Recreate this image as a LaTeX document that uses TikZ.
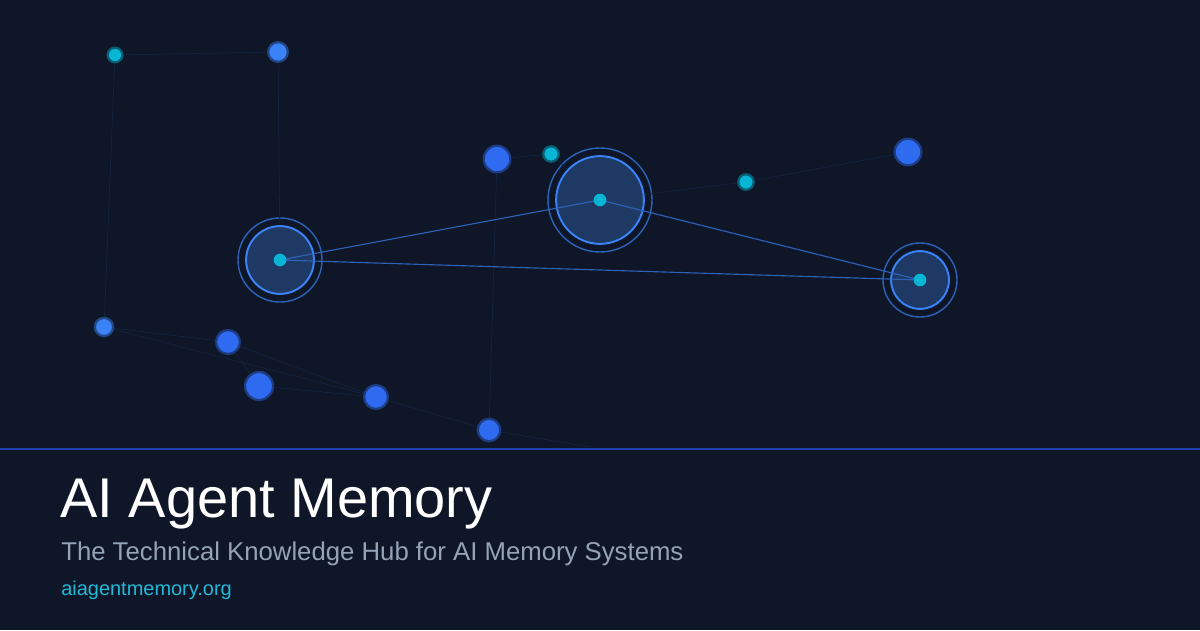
\documentclass[tikz,border=0pt]{standalone}
\usepackage{fontspec}
\setmainfont{Liberation Sans}
\definecolor{bgnavy}{HTML}{0E1627}
\definecolor{nodeblue}{HTML}{2F6BF0}
\definecolor{lightblue}{HTML}{3B82F6}
\definecolor{nodecyan}{HTML}{06B6D4}
\definecolor{hubfill}{HTML}{1E3A64}
\definecolor{rulebl}{HTML}{1E40AF}
\definecolor{subgray}{HTML}{94A3B8}
\definecolor{urlcyan}{HTML}{22B8D8}
\tikzset{
  dot/.style={circle,fill=#1,draw=#1!45!bgnavy,line width=1.6pt,inner sep=0pt},
  faint/.style={draw=lightblue!12!bgnavy,line width=0.5pt},
  link/.style={draw=lightblue!70!bgnavy,line width=0.8pt},
  hub/.style={circle,fill=hubfill,draw=lightblue,line width=1.4pt,inner sep=0pt}
}
\begin{document}
\begin{tikzpicture}[x=0.025cm,y=-0.025cm]
  \fill[bgnavy] (0,0) rectangle (1200,630);
  \useasboundingbox (0,0) rectangle (1200,630);
%small nodes
  \coordinate (e1) at (590,447);
  \node[dot=nodecyan,minimum size=10.5] (a1) at (115,55) {};
  \node[dot=lightblue,minimum size=14] (a2) at (278,52) {};
  \node[dot=nodeblue,minimum size=19] (b1) at (497,159) {};
  \node[dot=nodecyan,minimum size=11] (b2) at (551,154) {};
  \node[dot=nodecyan,minimum size=11] (c1) at (746,182) {};
  \node[dot=nodeblue,minimum size=19] (c2) at (908,152) {};
  \node[dot=lightblue,minimum size=13] (d1) at (104,327) {};
  \node[dot=nodeblue,minimum size=17] (d2) at (228,342) {};
  \node[dot=nodeblue,minimum size=20] (d3) at (259,386) {};
  \node[dot=nodeblue,minimum size=17] (d4) at (376,397) {};
  \node[dot=nodeblue,minimum size=16] (d5) at (489,430) {};
%hubs
  \foreach \n/\x/\y/\r in {h1/280/260/34,h2/600/200/44,h3/920/280/29}{
    \draw[lightblue!70!bgnavy,line width=1pt] (\x,\y) circle (\r+8);
    \node[hub,minimum size=2*\r*0.709pt] (\n) at (\x,\y) {};
  }
%faint links
  \path[faint] (a1) -- (a2) (a1) -- (d1) (a2) -- (h1) (b1) -- (b2) (b2) -- (h2)
    (h2) -- (c1) (c1) -- (c2) (d1) -- (d2) (d1) -- (d4) (d2) -- (d3)
    (d2) -- (d4) (d3) -- (d4) (d4) -- (d5) (d5) -- (e1) (b1) -- (d5);
  \draw[link] (h1.center) -- (h2.center) -- (h3.center) -- (h1.center);
  \foreach \n in {h1,h2,h3}
    \node[circle,fill=nodecyan,minimum size=9,inner sep=0pt] at (\n) {};
%rule and texts
  \draw[rulebl,line width=1.5pt] (0,449) -- (1200,449);
  \node[anchor=base west,text=white,font=\fontsize{39.8}{42}\selectfont,inner sep=0pt] (title) at (60,517) {AI Agent Memory};
  \node[anchor=base west,text=subgray,font=\fontsize{18.3}{21}\selectfont,inner sep=0pt] (sub) at (61,560) {The Technical Knowledge Hub for AI Memory Systems};
  \node[anchor=base west,text=urlcyan,font=\fontsize{14.2}{17}\selectfont,inner sep=0pt] (url) at (61,595) {aiagentmemory.org};
\end{tikzpicture}
\end{document}
